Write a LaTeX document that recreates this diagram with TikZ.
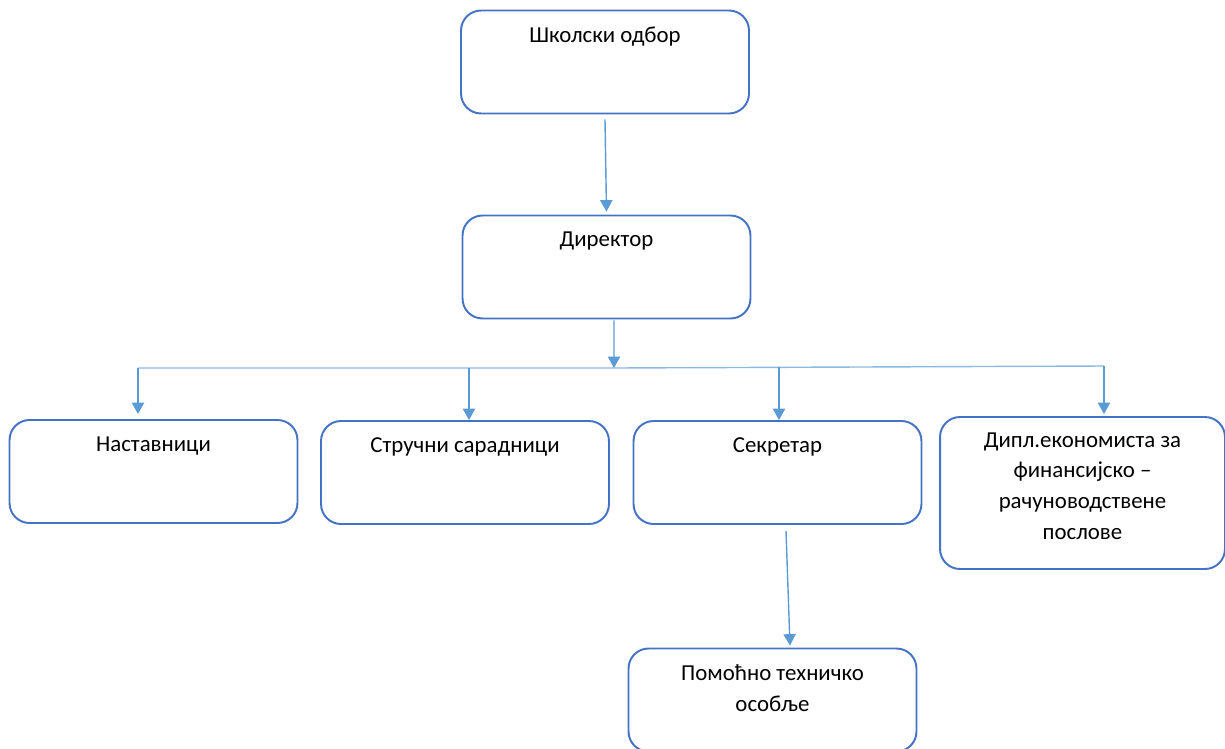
\documentclass[tikz,border=0pt]{standalone}
\usepackage{fontspec}
\setmainfont{Carlito}
\usepackage{tikz}
\usetikzlibrary{arrows.meta,positioning}
\definecolor{boxblue}{HTML}{4472C4}
\definecolor{linkblue}{HTML}{5B9BD5}

\begin{document}
\begin{tikzpicture}[x=0.02cm,y=-0.02cm,
    unit/.style={draw=boxblue,line width=1.1pt,rounded corners=0.4cm,
      minimum width=5.76cm,minimum height=2.06cm,inner sep=0pt},
    txt/.style={anchor=north,align=center,inner sep=0pt,
      font=\fontsize{13}{17.6}\selectfont},
    link/.style={draw=linkblue,line width=0.8pt,-{Triangle[length=6.5pt,width=7pt]}},
    bus/.style={draw=linkblue!70,line width=0.8pt}]
    \useasboundingbox (0,0) rectangle (1225,748);
    % top
    \node [unit] (odbor) at (605,62) {};
    \node [txt] (odbort) at ([yshift=-0.34cm]odbor.north) {Школски одбор};
    \node [unit] (dir) at (606.5,267) {};
    \node [txt] (dirt) at ([yshift=-0.34cm]dir.north) {Директор};
    % row
    \node [unit] (nast) at (153.5,471.5) {};
    \node [txt] (nastt) at ([yshift=-0.34cm]nast.north) {Наставници};
    \node [unit] (struc) at (465,472.5) {};
    \node [txt] (struct) at ([yshift=-0.34cm]struc.north) {Стручни сарадници};
    \node [unit] (sekr) at (777.5,472.5) {};
    \node [txt] (sekrt) at ([yshift=-0.34cm]sekr.north) {Секретар};
    \node [unit,minimum width=5.7cm,minimum height=3.04cm] (dipl) at (1082.5,493) {};
    \node [txt] (diplt) at ([yshift=-0.32cm]dipl.north) {Дипл.економиста за\\финансијско –\\рачуноводствене\\послове};
    \node [unit] (pom) at (772.5,700) {};
    \node [txt] (pomt) at ([yshift=-0.34cm]pom.north) {Помоћно техничко\\особље};
    % connectors
    \draw [link] ([yshift=-0.1cm]odbor.south) -- ([yshift=0.06cm]dir.north);
    \coordinate (hub) at (614,368);
    \coordinate (bl) at (138,368);
    \coordinate (bm1) at (469,368);
    \coordinate (bm2) at (779,367);
    \coordinate (br) at (1104,366);
    \draw [bus] (bl) -- (hub) -- (br);
    \draw [link] ([xshift=0.15cm,yshift=-0.02cm]dir.south) -- (hub);
    \draw [link] (bl) -- ([yshift=0.1cm]bl |- nast.north);
    \draw [link] (bm1) -- (bm1 |- struc.north);
    \draw [link] (bm2) -- (bm2 |- sekr.north);
    \draw [link] (br) -- ([yshift=0.04cm]br |- dipl.north);
    \draw [link] ([xshift=0.17cm,yshift=-0.12cm]sekr.south) -- ([xshift=0.35cm,yshift=0.04cm]pom.north);
\end{tikzpicture}
\end{document}
